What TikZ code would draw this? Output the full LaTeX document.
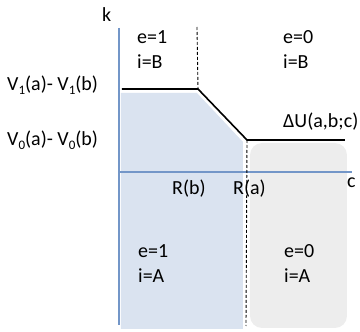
\documentclass[tikz,border=0pt]{standalone}
\usepackage{fontspec}
\setmainfont{Carlito}
\definecolor{axisblue}{HTML}{7396C8}
\definecolor{fillblue}{HTML}{DAE3F0}
\definecolor{fillgray}{HTML}{EDEDED}
\newcommand\subidx[1]{\raisebox{-0.35ex}{\fontsize{13}{13}\selectfont #1}}
\begin{document}
\begin{tikzpicture}[x=1pt,y=-1pt,
  lbl/.style={anchor=base west,inner sep=0pt,font=\fontsize{20}{24}\selectfont},
  axisline/.style={draw=axisblue,line width=1.2pt},
  curve/.style={draw=black,line width=1.6pt},
  divider/.style={draw=black,line width=0.9pt,dash pattern=on 3pt off 2pt}]
\useasboundingbox (0,0) rectangle (360,332);
% regions
\fill[fillblue] (121,93) -- (197,93) -- (243,142) -- (243,329) -- (121,329) -- cycle;
\fill[fillgray,rounded corners=12pt] (250,143) rectangle (347,328);
% coordinates
\coordinate (ytop) at (119,28);
\coordinate (ybot) at (119,325);
\coordinate (xleft) at (119,172);
\coordinate (xright) at (352,172);
\coordinate (c1) at (122,89);
\coordinate (c2) at (198,89);
\coordinate (c3) at (247,140);
\coordinate (c4) at (345,140);
\coordinate (d1top) at (197,27);
\coordinate (d2bot) at (246,326);
% axes
\draw[axisline] (ytop) -- (ybot);
\draw[axisline] (xleft) -- (xright);
% dashed dividers
\draw[divider] (d1top) -- (c2);
\draw[divider] (c3) -- (d2bot);
% curve
\draw[curve,line join=miter] (c1) -- (c2) -- (c3) -- (c4);
% labels
\node[lbl] (k) at (102,22) {k};
\node[lbl] (e1B) at (137,43) {e=1};
\node[lbl] (i1B) at (137,68) {i=B};
\node[lbl] (e0B) at (283,43) {e=0};
\node[lbl] (i0B) at (283,68) {i=B};
\node[lbl] (V1) at (7,91) {V\subidx{1}(a)- V\subidx{1}(b)};
\node[lbl] (V0) at (7,146) {V\subidx{0}(a)- V\subidx{0}(b)};
\node[lbl] (dU) at (283,128) {ΔU(a,b;c)};
\node[lbl] (Rb) at (172,195) {R(b)};
\node[lbl] (Ra) at (233,195) {R(a)};
\node[lbl] (cl) at (347,188) {c};
\node[lbl] (e1A) at (138,258) {e=1};
\node[lbl] (i1A) at (138,283) {i=A};
\node[lbl] (e0A) at (284,258) {e=0};
\node[lbl] (i0A) at (284,283) {i=A};
\end{tikzpicture}
\end{document}
